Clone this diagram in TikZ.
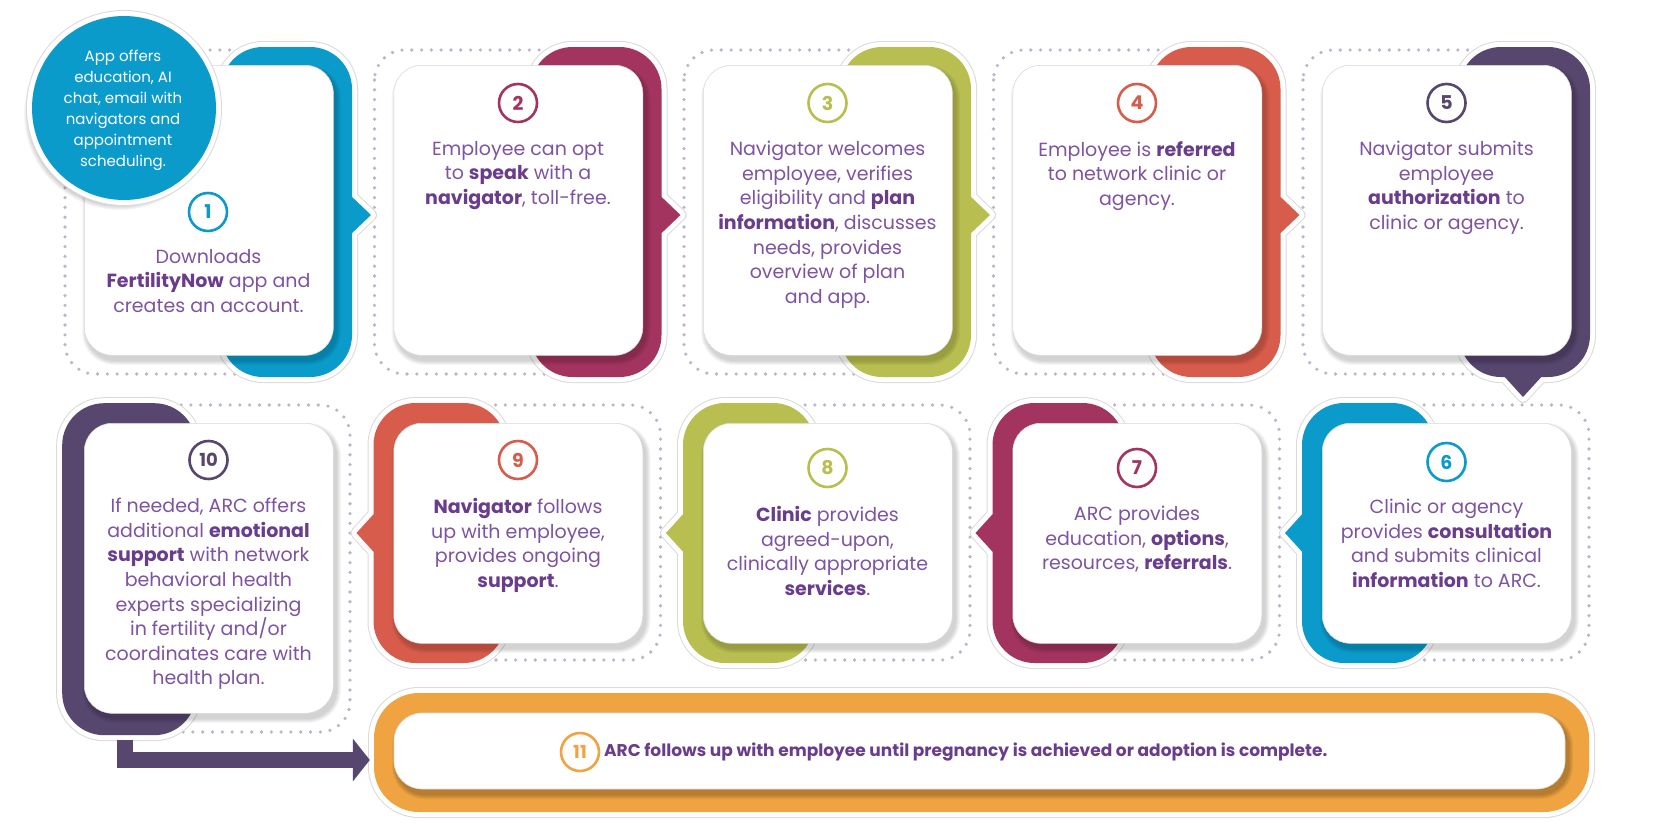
\documentclass[tikz,border=0pt]{standalone}
\usepackage{fontspec}
\setmainfont{Poppins}
\usetikzlibrary{arrows.meta}
\definecolor{cblue}{HTML}{0B9BCB}
\definecolor{cmag}{HTML}{A3345F}
\definecolor{cgreen}{HTML}{B8BE4F}
\definecolor{cred}{HTML}{D85C4B}
\definecolor{cpurp}{HTML}{57476F}
\definecolor{corange}{HTML}{EFA441}
\definecolor{cdot}{HTML}{BFB2CC}
\definecolor{ctxt}{HTML}{7E53A1}
\definecolor{ctxtb}{HTML}{6A3C8C}
\definecolor{cring}{HTML}{DADADA}
\newcommand{\B}[1]{{\bfseries\color{ctxtb}#1}}
\tikzset{
  dotbox/.style={draw=cdot, line width=3.6pt, dash pattern=on 0pt off 9.8pt, line cap=round, rounded corners=30pt},
  colshape/.style={fill=#1, preaction={draw=cring, line width=12pt, line join=round}, preaction={draw=white, line width=10pt, line join=round}},
  card/.style={draw=cring, line width=0.6pt, fill=white, rounded corners=28pt, minimum width=249pt, inner sep=0pt, anchor=north west},
  num/.style={circle, draw=#1, line width=2.6pt, minimum size=38pt, inner sep=0pt, text=#1, font=\bfseries\fontsize{19}{19}\selectfont},
  body/.style={align=center, anchor=north, inner sep=0pt, text=ctxt, font=\fontsize{19}{24.6}\selectfont},
}
% top row coloured shape, notch to the right
\newcommand{\topcol}[2]{\path[colshape=#2, rounded corners=42pt] ({#1+137},47) rectangle ({#1+268},377) [sharp corners] ({#1+265},236) -- ({#1+287},215) -- ({#1+265},194) -- cycle;}
% bottom row coloured shape, notch to the left
\newcommand{\botcol}[2]{\path[colshape=#2, rounded corners=42pt] ({#1-20},403) rectangle ({#1+112},663) [sharp corners] ({#1-17},511) -- ({#1-37},533) -- ({#1-17},555) -- cycle;}
% card with soft shadow: name, left, top, height
\newcommand{\cardat}[4]{%
  \foreach \i [evaluate=\i as \rr using 28+\i] in {1,...,5}{\fill[black,opacity=0.035,rounded corners=\rr pt] ({#2+3-\i},{#3+5-\i}) rectangle ({#2+252+\i},{#3+#4+5+\i});}
  \node[card, minimum height=#4 pt] (#1) at (#2,#3) {};}
\begin{document}
\begin{tikzpicture}[x=1pt,y=-1pt]
\useasboundingbox (0,0) rectangle (1654,827);
\fill[white] (0,0) rectangle (1654,827);
% dotted frames
\foreach \L in {84,393.5,703,1012.5,1322} {\draw[dotbox] ({\L-19},50) rectangle ({\L+200},374);}
\foreach \L in {393.5,703,1012.5,1322} {\draw[dotbox] ({\L+50},405) rectangle ({\L+267},660);}
\draw[dotbox] (134,405) rectangle (350,732);

% ---- top row ----
\topcol{84}{cblue}
\cardat{k1}{84}{65}{290}
\topcol{393.5}{cmag}
\cardat{k2}{393.5}{65}{290}
\topcol{703}{cgreen}
\cardat{k3}{703}{65}{290}
\topcol{1012.5}{cred}
\cardat{k4}{1012.5}{65}{290}
\path[colshape=cpurp, rounded corners=42pt] (1459,47) rectangle (1590,377) [sharp corners] (1502,374) -- (1523,397) -- (1544,374) -- cycle;
\cardat{k5}{1322}{65}{290}

% ---- bottom row ----
\node[colshape=cpurp, rounded corners=42pt, minimum width=134pt, minimum height=332pt, anchor=north west, inner sep=0pt] (c10) at (62,403) {};
\cardat{k10}{84}{423}{290}
\botcol{393.5}{cred}
\cardat{k9}{393.5}{423}{220}
\botcol{703}{cgreen}
\cardat{k8}{703}{423}{220}
\botcol{1012.5}{cmag}
\cardat{k7}{1012.5}{423}{220}
\botcol{1322}{cblue}
\cardat{k6}{1322}{423}{220}

% ---- step 11 ----
\node[colshape=corange, rounded corners=45pt, minimum width=1215pt, minimum height=119pt, inner sep=0pt] (o11) at (981.5,752.5) {};
\foreach \i [evaluate=\i as \rr using 28+\i] in {1,...,5}{\fill[black,opacity=0.05,rounded corners=\rr pt] ({397-\i},{718-\i}) rectangle ({1568+\i},{794+\i});}
\node[draw=cring, line width=0.6pt, fill=white, rounded corners=28pt, minimum width=1171pt, minimum height=76pt, inner sep=0pt] (k11) at (979.5,751) {};
\node[num=corange, font=\bfseries\fontsize{18}{18}\selectfont] (n11) at (580,752) {11};
\node[anchor=west, inner sep=0pt, text=ctxtb, font=\bfseries\fontsize{17}{20}\selectfont] (t11) at (604,752) {ARC follows up with employee until pregnancy is achieved or adoption is complete.};

% connector 10 -> 11
\coordinate (a10) at (125,740);
\draw[cpurp, line width=16pt, line join=miter, shorten >=4pt, -{Triangle[length=17pt,width=42pt]}] (a10) |- ([yshift=-7.5pt]o11.west);

% ---- numbers and texts ----
\node[num=cblue] (n1) at (208,212) {1};
\node[body] (t1) at (208.5,249) {Downloads\\\B{FertilityNow} app and\\creates an account.};
\node[num=cmag] (n2) at (518,103) {2};
\node[body] (t2) at (518,141) {Employee can opt\\to \B{speak} with a\\\B{navigator}, toll-free.};
\node[num=cgreen] (n3) at (827.5,103) {3};
\node[body] (t3) at (827.5,141) {Navigator welcomes\\employee, verifies\\eligibility and \B{plan}\\\B{information}, discusses\\needs, provides\\overview of plan\\and app.};
\node[num=cred] (n4) at (1137,103) {4};
\node[body] (t4) at (1137,141) {Employee is \B{referred}\\to network clinic or\\agency.};
\node[num=cpurp] (n5) at (1446.5,103) {5};
\node[body] (t5) at (1446.5,141) {Navigator submits\\employee\\\B{authorization} to\\clinic or agency.};

\node[num=cblue] (n6) at (1446.5,462) {6};
\node[body] (t6) at (1446.5,499) {Clinic or agency\\provides \B{consultation}\\and submits clinical\\\B{information} to ARC.};
\node[num=cmag] (n7) at (1137,468) {7};
\node[body] (t7) at (1137,506) {ARC provides\\education, \B{options},\\resources, \B{referrals}.};
\node[num=cgreen] (n8) at (827.5,468) {8};
\node[body] (t8) at (827.5,506) {\B{Clinic} provides\\agreed-upon,\\clinically appropriate\\\B{services}.};
\node[num=cred] (n9) at (518,460) {9};
\node[body] (t9) at (518,498) {\B{Navigator} follows\\up with employee,\\provides ongoing\\\B{support}.};
\node[num=cpurp, font=\bfseries\fontsize{18}{18}\selectfont] (n10) at (208.5,460) {10};
\node[body] (t10) at (208.5,498) {If needed, ARC offers\\additional \B{emotional}\\\B{support} with network\\behavioral health\\experts specializing\\in fertility and/or\\coordinates care with\\health plan.};

% ---- app bubble ----
\foreach \i in {1,...,6}{\fill[black,opacity=0.035] (120,114) circle ({90+\i});}
\node[circle, fill=cblue, minimum size=184pt, inner sep=0pt, preaction={draw=cring,line width=12pt}, preaction={draw=white,line width=10pt}] (app) at (124,108) {};
\node[text=white, align=center, inner sep=0pt, font=\fontsize{15}{21}\selectfont] (appt) at (123,110) {App offers\\education, AI\\chat, email with\\navigators and\\appointment\\scheduling.};
\end{tikzpicture}
\end{document}
